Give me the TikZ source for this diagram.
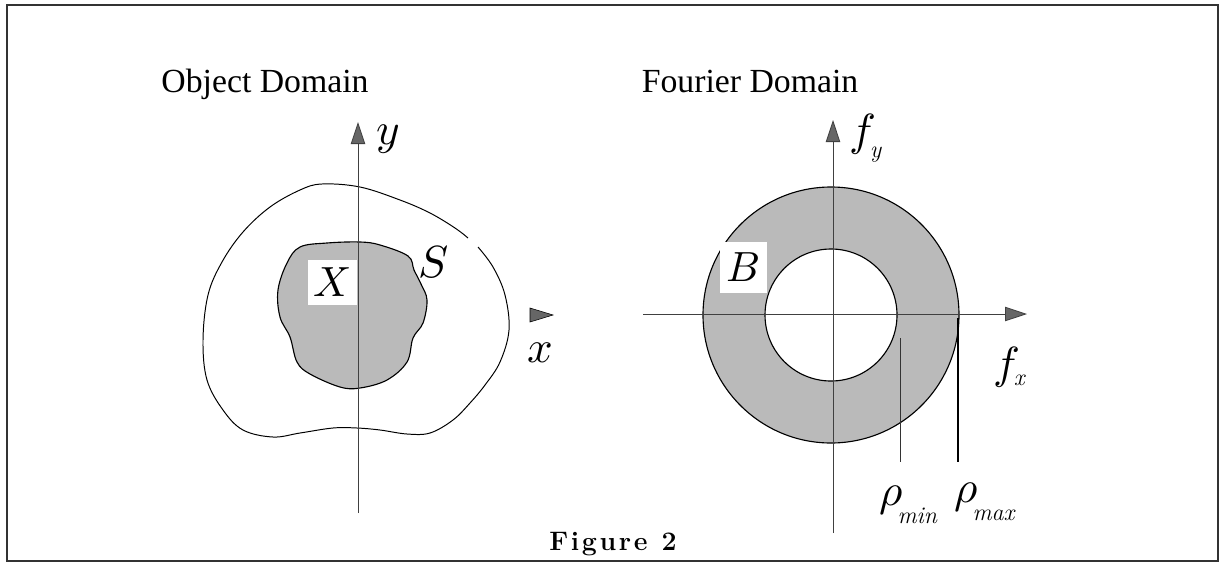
\documentclass[tikz,border=0pt]{standalone}
\usepackage{fontspec}
\usepackage{unicode-math}
\setmainfont{Liberation Serif}
\setmathfont{Latin Modern Math}
\newfontfamily\capfont{Latin Modern Roman}
\usetikzlibrary{arrows.meta}
\newcommand{\lowsub}[2]{\kern-4pt\raisebox{-#1}{\capfont\itshape\fontsize{17}{17}\selectfont #2}}

\begin{document}
\begin{tikzpicture}[
    x=0.025cm, y=-0.025cm,
    axis/.style={draw=black!75, line width=0.6pt},
    tipped/.style={-{Triangle[length=0.55cm, width=0.36cm, fill=black!60]}},
    dotfill/.style={fill=black!27},
    outline/.style={draw=black, line width=0.8pt},
    lbl/.style={font=\fontsize{32}{32}\selectfont, inner sep=0pt},
    ttl/.style={font=\fontsize{24}{28}\selectfont, anchor=base},
    whitebox/.style={fill=white, inner sep=0pt},
]

% ── Frame ───────────────────────────────────────────────────────
\useasboundingbox (0,0) rectangle (1220,567);
\draw[black!80, line width=1.4pt] (7,5) rectangle (1218,561);

% ── Titles ──────────────────────────────────────────────────────
\node[ttl] (ttlobj) at (265,92) {Object Domain};
\node[ttl] (ttlfou) at (750,92) {Fourier Domain};

% ── Object domain: support S and object X ──────────────────────
\draw[outline, line width=0.7pt] plot[smooth, tension=0.6] coordinates {
  (478,247) (493,267) (505,295) (509,330) (500,362) (485,385) (470,403)
  (453,420) (430,433) (407,434) (380,430) (357,428) (333,428) (300,433)
  (273,437) (243,430) (223,410) (207,380) (203,340) (208,295) (222,262)
  (243,232) (270,207) (300,190) (322,184) (360,187) (400,200) (430,213)
  (455,228) (468,238)};

\filldraw[dotfill, outline] plot[smooth cycle, tension=0.6] coordinates {
  (300,247) (327,243) (360,242) (380,245) (408,256) (414,270) (421,284)
  (427,300) (423,323) (413,338) (407,362) (387,380) (360,388) (340,387)
  (310,374) (297,362) (290,337) (280,317) (278,290) (287,263)};

\node[whitebox, minimum width=1.22cm, minimum height=1.12cm] (labX) at (332.5,282.5)
  {\fontsize{30}{30}\selectfont $X$\hspace{0.2cm}};
\node[lbl] (labS) at (434,262) {$S$};

% axes
\coordinate (ybot) at (358,513);
\coordinate (ytop) at (358,122);
\draw[axis, tipped] (ybot) -- (ytop);
\fill[black!60, draw=black, line width=0.4pt] (530,308) -- (553,315) -- (530,322) -- cycle;

\node[lbl, anchor=base] (laby) at (388,144) {$y$};
\node[lbl, anchor=base] (labx) at (540,362) {$x$};

% ── Fourier domain: band B ─────────────────────────────────────
\coordinate (c) at (831,315);
\filldraw[dotfill, outline, even odd rule] (c) circle (128) (c) circle (66);

\node[whitebox, minimum width=1.18cm, minimum height=1.28cm] (labB) at (743.5,267.5)
  {\fontsize{30}{30}\selectfont $B$\hspace{0.15cm}};

% axes
\coordinate (fybot) at (833,533);
\coordinate (fytop) at (833,120);
\coordinate (fxleft) at (643,314);
\coordinate (fxright) at (1027,314);
\draw[axis, tipped] (fybot) -- (fytop);
\draw[axis, tipped] (fxleft) -- (fxright);

\node[lbl, anchor=base west] (labfy) at (849,145) {$f$\lowsub{9pt}{y}};
\node[lbl, anchor=base west] (labfx) at (993,378) {$f$\lowsub{5pt}{x}};

% radii
\coordinate (mintop) at (900,338);
\coordinate (minbot) at (900,462);
\coordinate (maxtop) at (958,318);
\coordinate (maxbot) at (958,462);
\draw[black!80, line width=0.6pt] (mintop) -- (minbot);
\draw[black, line width=0.9pt] (maxtop) -- (maxbot);

\node[lbl, anchor=base west] (rhomin) at (879,505) {$\rho$\lowsub{12.8pt}{min}};
\node[lbl, anchor=base west] (rhomax) at (954,502) {$\rho$\lowsub{13.5pt}{max}};

% ── Caption ─────────────────────────────────────────────────────
\node[font=\capfont\fontsize{19}{22}\selectfont\bfseries\addfontfeature{LetterSpace=10}, anchor=base]
  (fig) at (613,550) {Figure\hspace{0.35cm}2};

\end{tikzpicture}
\end{document}
